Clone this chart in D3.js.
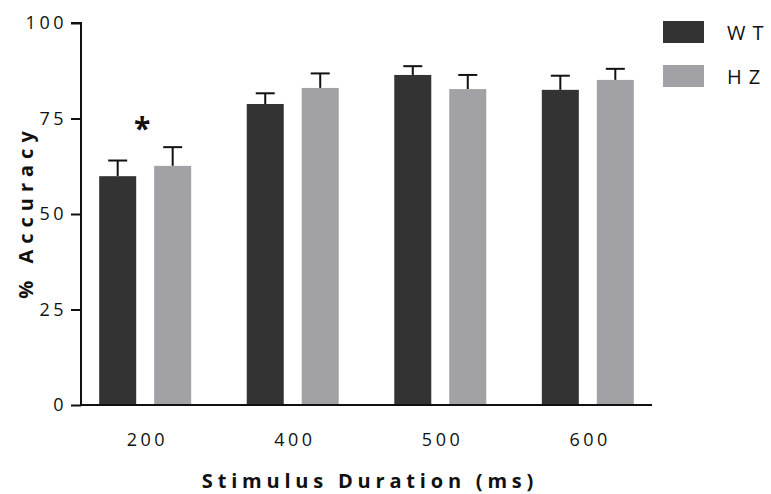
<!DOCTYPE html>
<html><head><meta charset="utf-8">
<script src="https://cdn.jsdelivr.net/npm/d3@7"></script>
<style>
body{margin:0;background:#fff;}
svg text{font-family:"Open Sans","Noto Sans",sans-serif;fill:#111;}
</style></head>
<body><svg id="c" width="771" height="494"></svg>
<script>
const categories = ["200","400","500","600"];
const seriesNames = ["WT","HZ"];
const wtValues = [59.9, 78.8, 86.4, 82.5];
const wtErrors = [4.1, 2.8, 2.3, 3.7];
const hzValues = [62.6, 83.0, 82.7, 85.1];
const hzErrors = [4.9, 3.8, 3.7, 2.9];
const yTicks = [0, 25, 50, 75, 100];
const colors = ["#333333", "#a2a1a5"];

const svg = d3.select("#c");
const x0 = d3.scalePoint().domain(categories).range([81, 652]).padding(0.435);
const x1 = d3.scaleBand().domain(seriesNames).range([-46, 46]).paddingInner(0.327);
const y = d3.scaleLinear().domain([0, 100]).range([405, 23]);

const data = [];
categories.forEach((c, i) => {
  data.push({cat: c, s: seriesNames[0], v: wtValues[i], e: wtErrors[i], col: colors[0]});
  data.push({cat: c, s: seriesNames[1], v: hzValues[i], e: hzErrors[i], col: colors[1]});
});

const eg = svg.append("g").attr("stroke", "#111").attr("stroke-width", 2);
data.forEach(d => {
  const cx = x0(d.cat) + x1(d.s) + x1.bandwidth() / 2;
  eg.append("line").attr("x1", cx).attr("x2", cx).attr("y1", y(d.v)).attr("y2", y(d.v + d.e));
  eg.append("line").attr("x1", cx - 9.5).attr("x2", cx + 9.5).attr("y1", y(d.v + d.e)).attr("y2", y(d.v + d.e));
});

svg.append("g").selectAll("rect").data(data).join("rect")
  .attr("x", d => x0(d.cat) + x1(d.s))
  .attr("width", x1.bandwidth())
  .attr("y", d => y(d.v))
  .attr("height", d => y(0) - y(d.v))
  .attr("fill", d => d.col);

// Y axis
const ya = svg.append("g").attr("transform", "translate(81,0)")
  .call(d3.axisLeft(y).tickValues(yTicks).tickSize(10).tickPadding(4).tickFormat(d3.format("d")));
ya.select(".domain").attr("stroke", "#111").attr("stroke-width", 2).attr("d", `M-10,${y(100)}H0V${y(0)}`);
ya.selectAll(".tick line").attr("stroke", "#111").attr("stroke-width", 2);
ya.selectAll(".tick text").attr("font-size", 18).attr("letter-spacing", "3.5px").attr("fill", "#111")
  .attr("font-family", "'Open Sans',sans-serif");

// X axis
const xa = svg.append("g").attr("transform", "translate(0,405)")
  .call(d3.axisBottom(x0).tickSize(0).tickPadding(28));
xa.select(".domain").attr("stroke", "#111").attr("stroke-width", 2).attr("d", "M81,0H652");
xa.selectAll(".tick text").attr("font-size", 18).attr("letter-spacing", "3.5px").attr("dx", "1.75px").attr("fill", "#111")
  .attr("font-family", "'Open Sans',sans-serif");

// Axis titles
svg.append("text").attr("x", 370).attr("y", 488).attr("text-anchor", "middle")
  .attr("font-size", 20).attr("font-weight", "bold").attr("letter-spacing", "4.8px")
  .text("Stimulus Duration (ms)");
svg.append("text").attr("transform", "translate(33,212) rotate(-90)").attr("text-anchor", "middle")
  .attr("font-size", 20).attr("font-weight", "bold").attr("letter-spacing", "6px")
  .text("% Accuracy");

// significance asterisk
svg.append("text").attr("x", x0("200") - 3).attr("y", 139).attr("text-anchor", "middle")
  .attr("font-size", 30).attr("font-weight", "bold").text("*");

// Legend
const lg = svg.append("g");
seriesNames.forEach((s, i) => {
  lg.append("rect").attr("x", 663).attr("y", 21 + i * 44).attr("width", 41).attr("height", 22).attr("fill", colors[i]);
  lg.append("text").attr("x", 727).attr("y", 40 + i * 44).attr("font-size", 20).attr("letter-spacing", "7px").text(s);
});
</script></body></html>
